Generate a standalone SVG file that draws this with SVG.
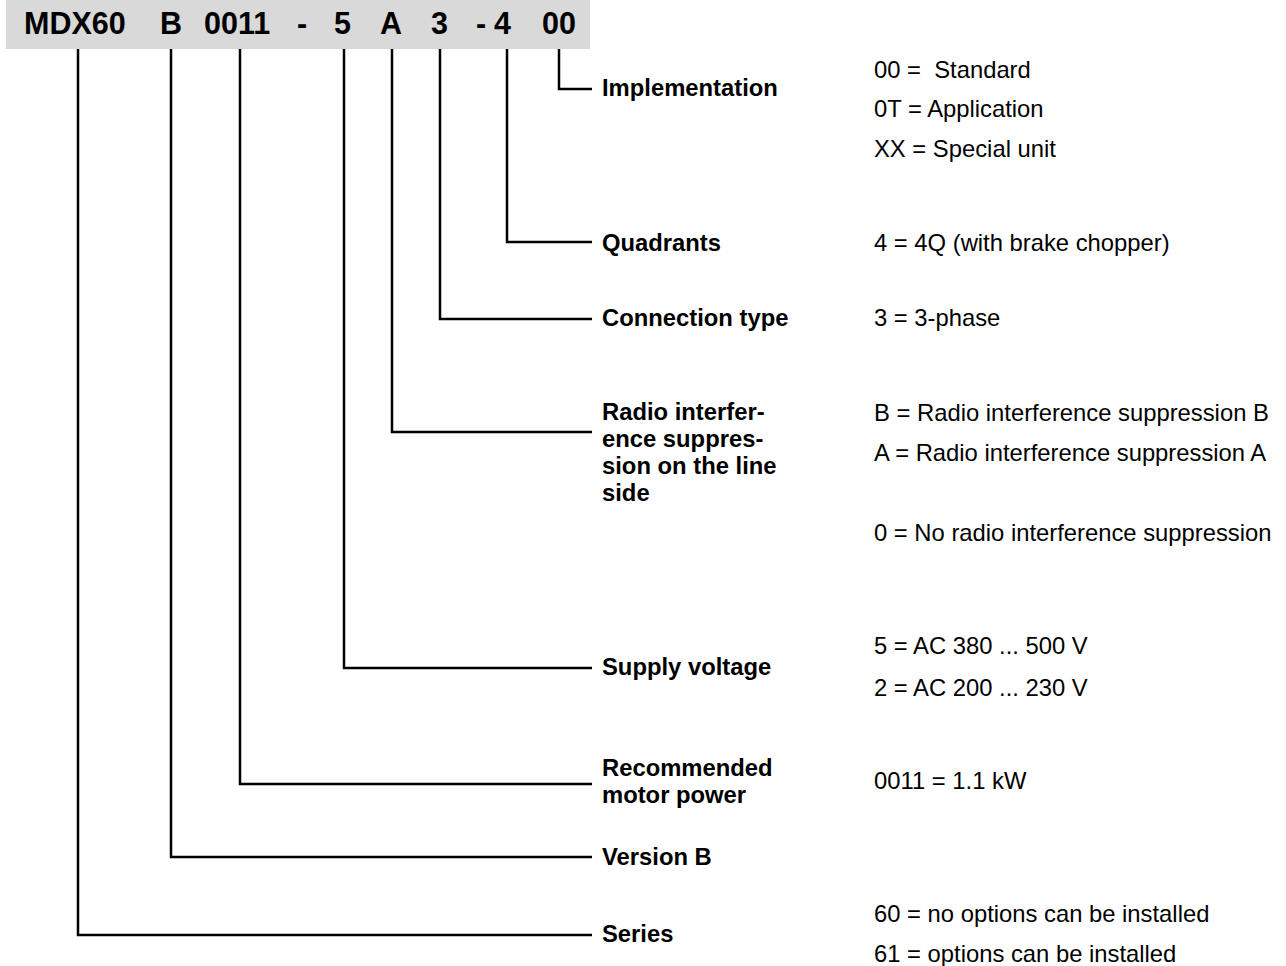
<svg xmlns="http://www.w3.org/2000/svg" width="1286" height="966" viewBox="0 0 1286 966">
<style>
.hdr{font-family:"Liberation Sans",Arial,sans-serif;font-weight:bold;font-size:30.5px;fill:#000}
.lbl{font-family:"Liberation Sans",Arial,sans-serif;font-weight:bold;font-size:23.8px;fill:#000}
.val{font-family:"Liberation Sans",Arial,sans-serif;font-size:23.8px;fill:#000}
.con{fill:none;stroke:#000;stroke-width:2.5}
</style>
<rect width="1286" height="966" fill="#fff"/>
<g id="header">
<rect x="6" y="0" width="584" height="49" fill="#d9d9d9"/>
<text class="hdr" x="24" y="34">MDX60</text>
<text class="hdr" x="160" y="34">B</text>
<text class="hdr" x="204" y="34">0011</text>
<text class="hdr" x="297" y="34">-</text>
<text class="hdr" x="334" y="34">5</text>
<text class="hdr" x="380" y="34">A</text>
<text class="hdr" x="431" y="34">3</text>
<text class="hdr" x="476" y="34">-</text>
<text class="hdr" x="494" y="34">4</text>
<text class="hdr" x="542" y="34">00</text>
</g>
<g id="connectors">
<polyline class="con" points="559,49 559,89 592,89"/>
<polyline class="con" points="507,49 507,242 592,242"/>
<polyline class="con" points="440,49 440,319 592,319"/>
<polyline class="con" points="392,49 392,432 592,432"/>
<polyline class="con" points="344,49 344,668 592,668"/>
<polyline class="con" points="240,49 240,784 592,784"/>
<polyline class="con" points="171,49 171,857 592,857"/>
<polyline class="con" points="78,49 78,935 592,935"/>
</g>
<g id="implementation">
<text class="lbl" x="602" y="96">Implementation</text>
<text class="val" x="874" y="78" xml:space="preserve">00 =  Standard</text>
<text class="val" x="874" y="117">0T = Application</text>
<text class="val" x="874" y="157">XX = Special unit</text>
</g>
<g id="quadrants">
<text class="lbl" x="602" y="251">Quadrants</text>
<text class="val" x="874" y="251">4 = 4Q (with brake chopper)</text>
</g>
<g id="connection-type">
<text class="lbl" x="602" y="326">Connection type</text>
<text class="val" x="874" y="326">3 = 3-phase</text>
</g>
<g id="radio-interference">
<text class="lbl" x="602" y="420">Radio interfer-</text>
<text class="lbl" x="602" y="447">ence suppres-</text>
<text class="lbl" x="602" y="474">sion on the line</text>
<text class="lbl" x="602" y="501">side</text>
<text class="val" x="874" y="421">B = Radio interference suppression B</text>
<text class="val" x="874" y="461">A = Radio interference suppression A</text>
<text class="val" x="874" y="541">0 = No radio interference suppression</text>
</g>
<g id="supply-voltage">
<text class="lbl" x="602" y="675">Supply voltage</text>
<text class="val" x="874" y="654">5 = AC 380 ... 500 V</text>
<text class="val" x="874" y="696">2 = AC 200 ... 230 V</text>
</g>
<g id="motor-power">
<text class="lbl" x="602" y="776">Recommended</text>
<text class="lbl" x="602" y="803">motor power</text>
<text class="val" x="874" y="789">0011 = 1.1 kW</text>
</g>
<g id="version">
<text class="lbl" x="602" y="865">Version B</text>
</g>
<g id="series">
<text class="lbl" x="602" y="942">Series</text>
<text class="val" x="874" y="922">60 = no options can be installed</text>
<text class="val" x="874" y="962">61 = options can be installed</text>
</g>
</svg>
